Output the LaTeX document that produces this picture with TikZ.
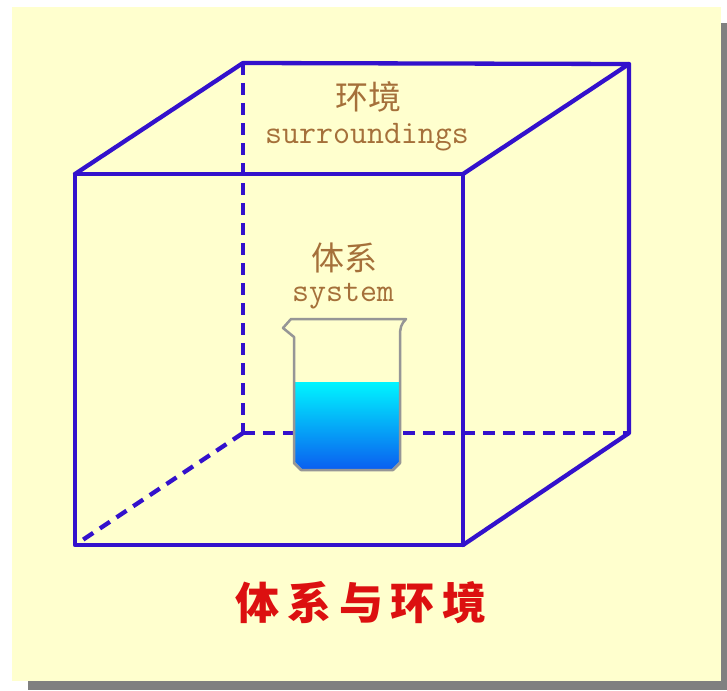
\documentclass[tikz,border=0pt]{standalone}
\usepackage{fontspec}
\newfontfamily\cjkfont{Noto Sans CJK SC}
\newfontfamily\titlefont[LetterSpace=18]{Noto Sans CJK SC}
\definecolor{panel}{RGB}{255,255,206}
\definecolor{shadowgray}{RGB}{128,128,128}
\definecolor{edge}{RGB}{51,17,204}
\definecolor{labelbrown}{RGB}{165,112,58}
\definecolor{titlered}{RGB}{220,16,16}
\definecolor{glass}{RGB}{150,150,150}
\definecolor{liquidtop}{RGB}{0,245,255}
\definecolor{liquidbottom}{RGB}{10,95,240}
\begin{document}
\begin{tikzpicture}[x=1pt,y=-1pt,
  solidedge/.style={draw=edge,line width=4.3pt,line join=round,line cap=round},
  hiddenedge/.style={draw=edge,line width=4.3pt,dash pattern=on 12pt off 8pt},
  cjklabel/.style={text=labelbrown,font=\cjkfont\fontsize{33}{36}\selectfont,inner sep=0pt},
  latinlabel/.style={text=labelbrown,font=\ttfamily\fontsize{33}{36}\selectfont,inner sep=0pt},
  titletext/.style={text=titlered,font=\titlefont\bfseries\fontsize{44}{48}\selectfont,inner sep=0pt}]
\useasboundingbox (0,0) rectangle (727,690);
\fill[white] (0,0) rectangle (727,690);
% panel with drop shadow
\fill[shadowgray] (28,23) rectangle (727,690);
\fill[panel] (12,7) rectangle (721,681);

% cube corners
\coordinate (ftl) at (75,174);
\coordinate (ftr) at (463,174);
\coordinate (fbr) at (463,545);
\coordinate (fbl) at (75,545);
\coordinate (btl) at (243,63);
\coordinate (btr) at (629,64);
\coordinate (bbr) at (629,433);
\coordinate (bbl) at (243,433);

% hidden edges
\draw[hiddenedge] (btl) -- (bbl);
\draw[hiddenedge] (bbl) -- (bbr);
\draw[hiddenedge] (bbl) -- (fbl);

% beaker: liquid, then glass outline
\shade[top color=liquidtop,bottom color=liquidbottom]
  (295,382) -- (399,382) -- (399,462) -- (392,469) -- (302,469) -- (295,462) -- cycle;
\draw[glass,line width=2.5pt,line join=round]
  (294,337) -- (283,328) -- (291,319) -- (406,319)
  .. controls (401,324) and (400,328) .. (400,336)
  -- (400,463) -- (393,470) -- (301,470) -- (294,463) -- cycle;

% visible edges
\draw[solidedge] (ftl) -- (ftr) -- (fbr) -- (fbl) -- cycle;
\draw[solidedge] (ftl) -- (btl) -- (btr) -- (ftr);
\draw[solidedge] (btr) -- (bbr) -- (fbr);

% labels
\node[cjklabel] (envzh) at (368,97) {环境};
\node[latinlabel] (enven) at (367,137) {surroundings};
\node[cjklabel] (syszh) at (344,258) {体系};
\node[latinlabel] (sysen) at (343,296) {system};
\node[titletext] (title) at (361,603) {体系与环境};
\end{tikzpicture}
\end{document}
